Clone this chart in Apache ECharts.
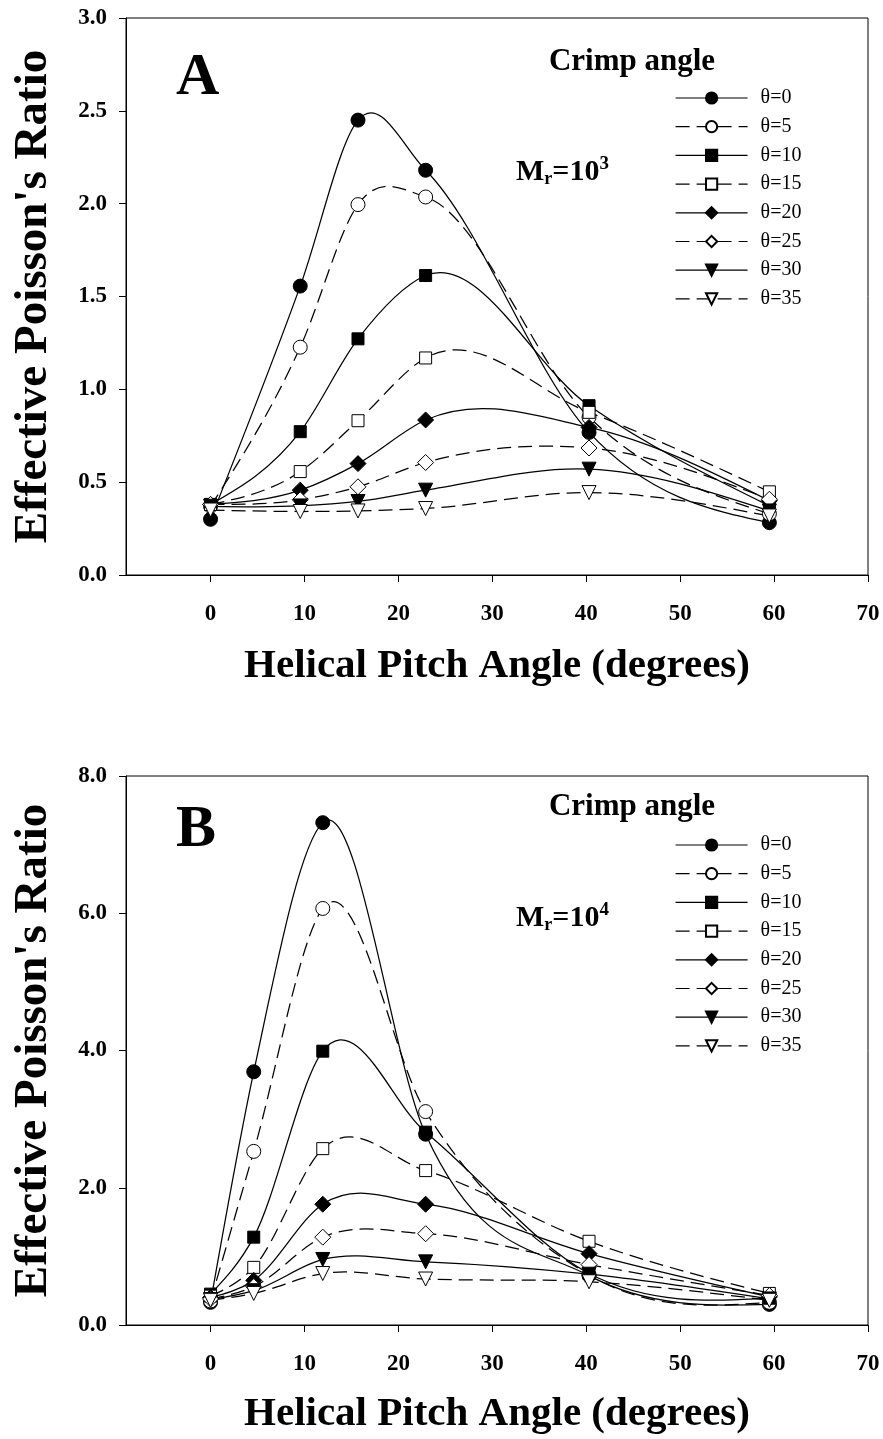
<!DOCTYPE html>
<html><head><meta charset="utf-8">
<script src="https://cdn.jsdelivr.net/npm/echarts@6/dist/echarts.min.js"></script>
<style>html,body{margin:0;padding:0;background:#fff}#c{width:883px;height:1439px}</style>
</head><body><div id="c"></div>
<script>
// ---- data ----
const seriesNames = ['θ=0','θ=5','θ=10','θ=15','θ=20','θ=25','θ=30','θ=35'];
const pitchA = [0, 9.55, 15.7, 22.9, 40.3, 59.5];
const pitchB = [0, 4.6, 11.95, 22.9, 40.3, 59.5];
const xTicks = [0, 10, 20, 30, 40, 50, 60, 70];
// Panel A (Mr = 10^3)
const a0  = [0.30, 1.556, 2.45, 2.18, 0.768, 0.282];
const a5  = [0.37, 1.227, 1.995, 2.036, 0.85, 0.33];
const a10 = [0.38, 0.772, 1.272, 1.613, 0.912, 0.372];
const a15 = [0.38, 0.557, 0.831, 1.169, 0.876, 0.448];
const a20 = [0.38, 0.457, 0.60, 0.835, 0.795, 0.40];
const a25 = [0.38, 0.405, 0.475, 0.606, 0.684, 0.408];
const a30 = [0.37, 0.372, 0.396, 0.457, 0.570, 0.345];
const a35 = [0.35, 0.342, 0.345, 0.358, 0.444, 0.318];
// Panel B (Mr = 10^4)
const b0  = [0.33, 3.69, 7.32, 2.78, 0.72, 0.30];
const b5  = [0.35, 2.53, 6.07, 3.11, 0.73, 0.33];
const b10 = [0.45, 1.28, 3.99, 2.81, 0.75, 0.39];
const b15 = [0.42, 0.84, 2.57, 2.25, 1.22, 0.46];
const b20 = [0.40, 0.65, 1.76, 1.76, 1.04, 0.41];
const b25 = [0.38, 0.56, 1.28, 1.33, 0.88, 0.43];
const b30 = [0.37, 0.50, 0.955, 0.92, 0.74, 0.38];
const b35 = [0.36, 0.46, 0.75, 0.67, 0.63, 0.36];
const valsA = [a0, a5, a10, a15, a20, a25, a30, a35];
const valsB = [b0, b5, b10, b15, b20, b25, b30, b35];

// ---- styles ----
const SERIF = '"Liberation Serif", "Times New Roman", serif';
const symbols = ['circle','circle','rect','rect','diamond','diamond','triangle','triangle'];
const symSizes = [14, 14, 12, 12, 16, 16, 14, 14];
const symRot = [0,0,0,0,0,0,180,180];
const DASH = [14, 7];

// smooth cubic (Hermite) curve through the data points, drawn as Bezier segments in axis space
function splineSegments(xs, ys) {
  const n = xs.length, h = [], s = [], d = new Array(n);
  for (let i = 0; i < n - 1; i++) { h.push(xs[i + 1] - xs[i]); s.push((ys[i + 1] - ys[i]) / h[i]); }
  for (let i = 1; i < n - 1; i++) d[i] = (h[i] * s[i - 1] + h[i - 1] * s[i]) / (h[i - 1] + h[i]);
  d[0] = (3 * s[0] - d[1]) / 2;
  d[n - 1] = (3 * s[n - 2] - d[n - 2]) / 2;
  const segs = [];
  for (let i = 0; i < n - 1; i++) {
    segs.push([[xs[i], ys[i]], [xs[i] + h[i] / 3, ys[i] + d[i] * h[i] / 3],
               [xs[i + 1] - h[i] / 3, ys[i + 1] - d[i + 1] * h[i] / 3], [xs[i + 1], ys[i + 1]]]);
  }
  return segs;
}

function makeSeries(xs, vals, idx, tag) {
  const out = [];
  vals.forEach((v, i) => {
    const segs = splineSegments(xs, v);
    out.push({
      name: tag + ' curve ' + seriesNames[i],
      type: 'custom',
      xAxisIndex: idx, yAxisIndex: idx,
      data: xs.map((x, j) => [x, v[j]]),
      encode: { x: 0, y: 1 },
      silent: true, z: 1,
      renderItem: function (params, api) {
        if (params.dataIndex !== 0) return null;
        let p = api.coord(segs[0][0]);
        let path = 'M' + p[0] + ',' + p[1];
        segs.forEach(sg => {
          const c1 = api.coord(sg[1]), c2 = api.coord(sg[2]), e = api.coord(sg[3]);
          path += ' C' + c1[0] + ',' + c1[1] + ' ' + c2[0] + ',' + c2[1] + ' ' + e[0] + ',' + e[1];
        });
        return { type: 'path', shape: { pathData: path },
                 style: { fill: null, stroke: '#000', lineWidth: 1.25, lineDash: i % 2 === 0 ? null : DASH } };
      }
    });
    out.push({
      name: seriesNames[i],
      type: 'line',
      xAxisIndex: idx, yAxisIndex: idx,
      data: xs.map((x, j) => [x, v[j]]),
      symbol: symbols[i],
      symbolSize: symSizes[i],
      symbolRotate: symRot[i],
      showSymbol: true,
      lineStyle: { color: '#000', width: 1.25, opacity: 0, type: i % 2 === 0 ? 'solid' : DASH },
      itemStyle: { color: i % 2 === 0 ? '#000' : '#fff', borderColor: '#000', borderWidth: 1 },
      emphasis: { disabled: true },
      z: 3 + i
    });
  });
  return out;
}

function xAxis(idx, nameGap) {
  return {
    type: 'value', gridIndex: idx, min: -9, max: 70,
    axisLine: { show: true, onZero: false, lineStyle: { color: '#000', width: 1 } },
    axisTick: { show: true, length: 7, customValues: xTicks, lineStyle: { color: '#000' } },
    axisLabel: { customValues: xTicks, margin: 28, fontFamily: SERIF, fontWeight: 'bold', fontSize: 23, color: '#000' },
    splitLine: { show: false },
    name: 'Helical Pitch Angle (degrees)', nameLocation: 'middle', nameGap: nameGap,
    nameTextStyle: { fontFamily: SERIF, fontWeight: 'bold', fontSize: 41, color: '#000' }
  };
}
function yAxis(idx, max, interval, nameGap) {
  return {
    type: 'value', gridIndex: idx, min: 0, max: max, interval: interval,
    axisLine: { show: true, onZero: false, lineStyle: { color: '#000', width: 1 } },
    axisTick: { show: true, length: 7, lineStyle: { color: '#000' } },
    axisLabel: { margin: 19, fontFamily: SERIF, fontWeight: 'bold', fontSize: 23, color: '#000',
                 formatter: v => v.toFixed(1) },
    splitLine: { show: false },
    name: "Effective Poisson's Ratio", nameLocation: 'middle', nameGap: nameGap,
    nameTextStyle: { fontFamily: SERIF, fontWeight: 'bold', fontSize: 47, color: '#000' }
  };
}
function legend(top) {
  return {
    data: seriesNames, orient: 'vertical', left: 675, top: top, padding: 0,
    itemWidth: 72, itemHeight: 14, itemGap: 8.7, selectedMode: false,
    lineStyle: { color: '#000', width: 1.2, opacity: 1 },
    textStyle: { fontFamily: SERIF, fontSize: 20, color: '#000', lineHeight: 20, padding: [0, 0, 0, 8] }
  };
}
function mrText(x, y, exp) {
  return {
    type: 'text', x: x, y: y,
    style: {
      text: '{b|M}{s|r}{b|=10}{p|' + exp + '}',
      textVerticalAlign: 'middle',
      rich: {
        b: { fontFamily: SERIF, fontWeight: 'bold', fontSize: 30, fill: '#000', lineHeight: 36 },
        s: { fontFamily: SERIF, fontWeight: 'bold', fontSize: 18, fill: '#000', padding: [14, 0, 0, 0] },
        p: { fontFamily: SERIF, fontWeight: 'bold', fontSize: 19, fill: '#000', padding: [0, 0, 16, 0] }
      }
    }
  };
}

const chart = echarts.init(document.getElementById('c'), null, { renderer: 'canvas' });
chart.setOption({
  animation: false,
  backgroundColor: '#fff',
  grid: [
    { left: 126, right: 15, top: 18, height: 557, show: true, borderColor: '#000', borderWidth: 1, backgroundColor: 'transparent' },
    { left: 126, right: 15, top: 776, height: 549, show: true, borderColor: '#000', borderWidth: 1, backgroundColor: 'transparent' }
  ],
  xAxis: [xAxis(0, 71), xAxis(1, 69)],
  yAxis: [yAxis(0, 3, 0.5, 69), yAxis(1, 8, 2, 69)],
  legend: [legend(88), legend(835)],
  series: makeSeries(pitchA, valsA, 0, 'A').concat(makeSeries(pitchB, valsB, 1, 'B')),
  graphic: [
    { type: 'text', x: 176, y: 78, style: { text: 'A', fontFamily: SERIF, fontWeight: 'bold', fontSize: 60, fill: '#000', textVerticalAlign: 'middle' } },
    { type: 'text', x: 176, y: 830, style: { text: 'B', fontFamily: SERIF, fontWeight: 'bold', fontSize: 60, fill: '#000', textVerticalAlign: 'middle' } },
    { type: 'text', x: 632, y: 62, style: { text: 'Crimp angle', fontFamily: SERIF, fontWeight: 'bold', fontSize: 31, fill: '#000', textAlign: 'center', textVerticalAlign: 'middle' } },
    { type: 'text', x: 632, y: 807, style: { text: 'Crimp angle', fontFamily: SERIF, fontWeight: 'bold', fontSize: 31, fill: '#000', textAlign: 'center', textVerticalAlign: 'middle' } },
    mrText(516, 172, '3'),
    mrText(516, 918, '4')
  ]
});
</script>
</body></html>
